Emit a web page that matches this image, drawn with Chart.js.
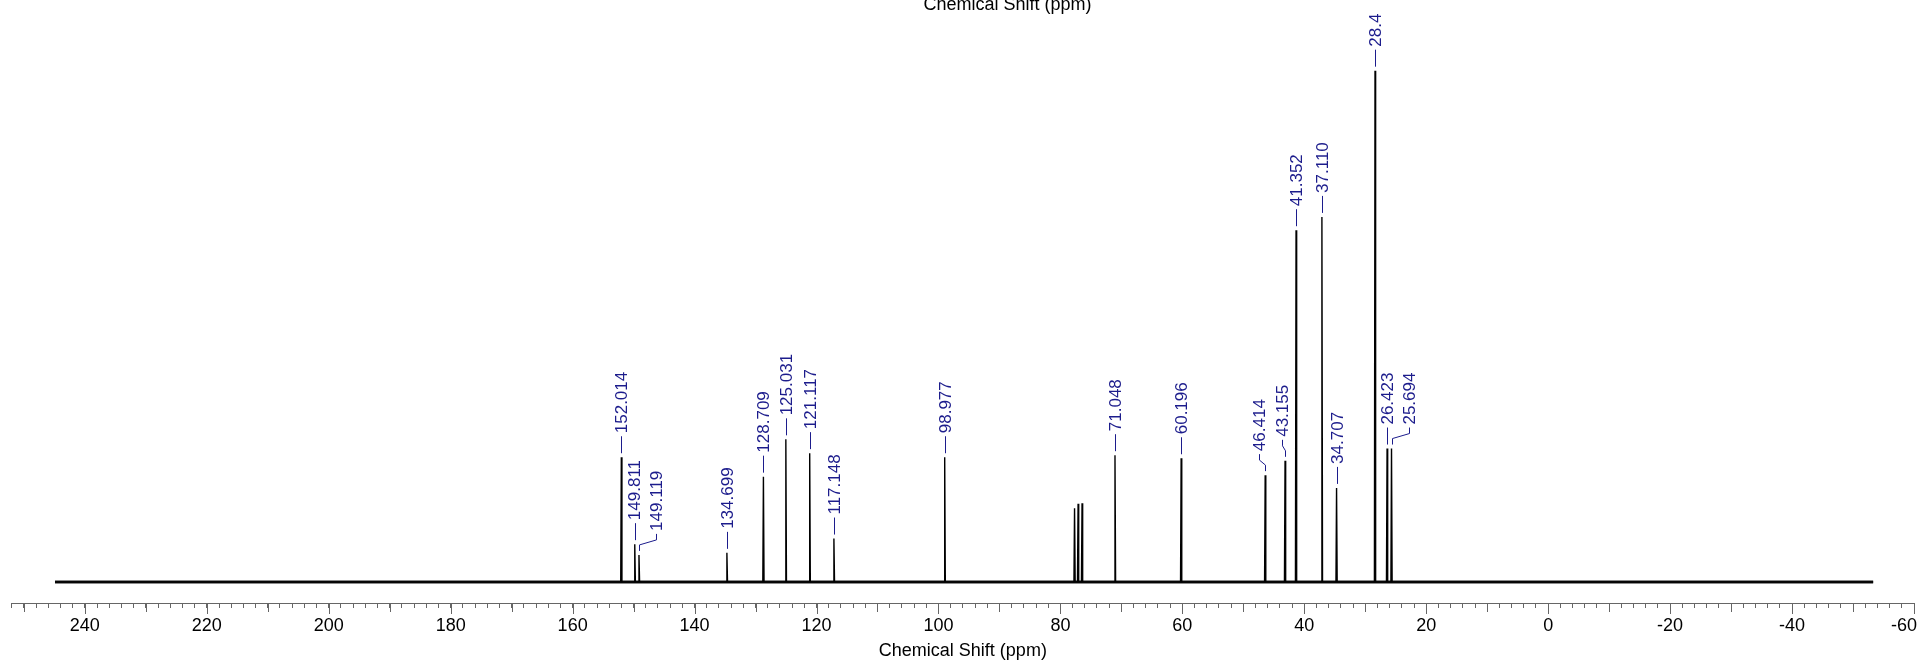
<!DOCTYPE html>
<html>
<head>
<meta charset="utf-8">
<script src="https://cdn.jsdelivr.net/npm/chart.js@4/dist/chart.umd.min.js"></script>
<style>
html,body{margin:0;padding:0;background:#fff;overflow:hidden;}
#c{display:block;}
</style>
</head>
<body>
<canvas id="c" width="1921" height="662"></canvas>
<script>
// ---- data (ppm, relative intensity; tallest peak = 100) ----
const peakShifts  = [152.014,149.811,149.119,134.699,128.709,125.031,121.117,117.148,98.977,77.68,77.10,76.45,71.048,60.196,46.414,43.155,41.352,37.110,34.707,28.4,26.423,25.694];
const peakHeights = [24.4,7.4,5.3,5.7,20.6,27.9,25.2,8.5,24.4,14.4,15.3,15.4,24.8,24.2,20.9,23.7,68.8,71.4,18.4,100,26.1,26.1];
const peakLabels  = ['152.014','149.811','149.119','134.699','128.709','125.031','121.117','117.148','98.977','','','','71.048','60.196','46.414','43.155','41.352','37.110','34.707','28.4','26.423','25.694'];
// ppm position where each label is anchored (differs from the peak where the connector bends)
const labelShifts = [152.014,149.95,146.4,134.699,128.709,125.031,121.117,117.148,98.977,null,null,null,71.048,60.196,47.38,43.6,41.352,37.110,34.707,28.4,26.5,22.9];
const spectrumRange = [244.9, -53.3];
const labelledTicks = [240,220,200,180,160,140,120,100,80,60,40,20,0,-20,-40,-60];
const midTicks = [250,230,210,190,170,150,130,110,90,70,50,30,10,-10,-30,-50];
const axisTitle = 'Chemical Shift (ppm)';
const edgeTick = -60; // last label, drawn shifted inside the canvas

const FONT = '"Liberation Sans", Arial, sans-serif';
const LABEL_COLOR = '#1c1c8c';
Chart.defaults.font.family = FONT;

// build the line: baseline with narrow peaks
const halfWidth = 0.1;
const idx = peakShifts.map((s,i)=>i).sort((a,b)=>peakShifts[b]-peakShifts[a]);
const spectrum = [{x: spectrumRange[0], y: 0}];
idx.forEach(i=>{
  spectrum.push({x: peakShifts[i]+halfWidth, y: 0});
  spectrum.push({x: peakShifts[i], y: peakHeights[i]});
  spectrum.push({x: peakShifts[i]-halfWidth, y: 0});
});
spectrum.push({x: spectrumRange[1], y: 0});
const baseline = [{x: spectrumRange[0], y: 0},{x: spectrumRange[1], y: 0}];

const peakLabelPlugin = {
  id: 'peakLabels',
  afterDatasetsDraw(chart){
    const {ctx} = chart;
    const x = chart.scales.x, y = chart.scales.y;
    ctx.save();
    ctx.strokeStyle = LABEL_COLOR;
    ctx.fillStyle = LABEL_COLOR;
    ctx.lineWidth = 1;
    ctx.font = '17px ' + FONT;
    peakLabels.forEach((txt,i)=>{
      if(!txt) return;
      const px = Math.round(x.getPixelForValue(peakShifts[i])) + 0.5;
      const lx = Math.round(x.getPixelForValue(labelShifts[i])) + 0.5;
      const top = y.getPixelForValue(peakHeights[i]);
      ctx.beginPath();
      if(Math.abs(lx-px) < 2){
        ctx.moveTo(px, top-4); ctx.lineTo(px, top-21);
      } else {
        ctx.moveTo(px, top-4); ctx.lineTo(px, top-10);
        ctx.lineTo(lx, top-15); ctx.lineTo(lx, top-21);
      }
      ctx.stroke();
      ctx.save();
      ctx.translate(lx, top-24);
      ctx.rotate(-Math.PI/2);
      ctx.textAlign = 'left';
      ctx.textBaseline = 'middle';
      ctx.fillText(txt, 0, 1);
      ctx.restore();
    });
    ctx.restore();
  },
  afterDraw(chart){
    const {ctx, chartArea} = chart;
    const x = chart.scales.x;
    const yb = chartArea.bottom;
    ctx.save();
    ctx.strokeStyle = '#666';
    ctx.lineWidth = 1;
    const draw = (v,len)=>{
      const p = Math.round(x.getPixelForValue(v)) + 0.5;
      ctx.beginPath(); ctx.moveTo(p, yb); ctx.lineTo(p, yb+len); ctx.stroke();
    };
    labelledTicks.forEach(v=>draw(v,11));
    midTicks.forEach(v=>draw(v,9));
    ctx.fillStyle = '#000';
    ctx.font = '18px ' + FONT;
    // edge label kept inside the canvas
    ctx.textAlign = 'right';
    ctx.textBaseline = 'middle';
    ctx.fillText(String(edgeTick), chart.width - 4, yb + 23.5);
    // top axis title (partly cut at the top edge)
    ctx.textAlign = 'center';
    ctx.textBaseline = 'alphabetic';
    ctx.fillText(axisTitle, 1007.5, 10);
    ctx.restore();
  }
};

new Chart(document.getElementById('c'), {
  type: 'line',
  data: {
    datasets: [
      {data: spectrum, borderColor: '#000', borderWidth: 1.4, pointRadius: 0, tension: 0, fill: false, order: 1},
      {data: baseline, borderColor: '#1a1a1a', borderWidth: 3, pointRadius: 0, tension: 0, fill: false, order: 2}
    ]
  },
  options: {
    responsive: false,
    animation: false,
    layout: {padding: {left: 11.7, right: 0.7, top: 20, bottom: 0}},
    plugins: {legend: {display: false}, tooltip: {enabled: false}, title: {display: false}},
    scales: {
      x: {
        type: 'linear',
        position: 'bottom',
        reverse: true,
        min: -60,
        max: 252,
        afterFit: (scale)=>{ scale.height = 59; },
        ticks: {
          stepSize: 2,
          autoSkip: false,
          maxRotation: 0,
          minRotation: 0,
          padding: 7,
          color: '#000',
          font: {size: 18},
          callback: (v)=>{
            const r = Math.round(v);
            if(Math.abs(v-r) > 1e-6 || !labelledTicks.includes(r) || r === edgeTick) return '';
            return String(r);
          }
        },
        grid: {display: true, drawOnChartArea: false, drawTicks: true, tickLength: 5, color: '#666', lineWidth: 1},
        border: {display: true, color: '#666', width: 1},
        title: {display: true, text: axisTitle, color: '#000', font: {size: 18}, padding: {top: 0, bottom: 0}}
      },
      y: {display: false, min: -4.107, max: 109.91}
    }
  },
  plugins: [peakLabelPlugin]
});
</script>
</body>
</html>
